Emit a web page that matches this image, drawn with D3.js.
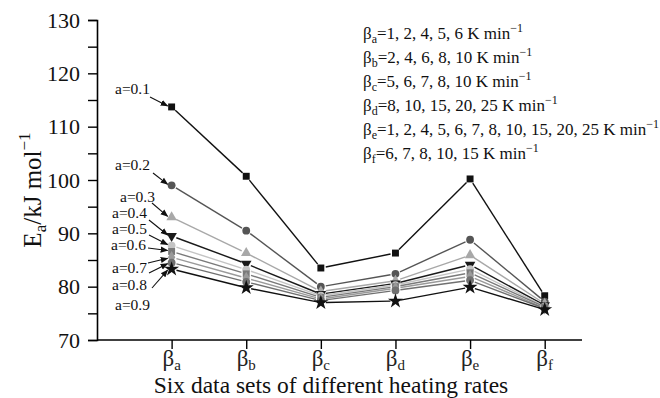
<!DOCTYPE html>
<html>
<head>
<meta charset="utf-8">
<script src="https://cdn.jsdelivr.net/npm/d3@7"></script>
<style>
  body { margin: 0; background: #fff; }
  svg { display: block; font-family: "Liberation Serif", "Times New Roman", serif; }
</style>
</head>
<body>
<svg id="chart"></svg>
<script>
// data sets on the x axis
const sets = ['a', 'b', 'c', 'd', 'e', 'f'];
const conversions = ['0.1', '0.2', '0.3', '0.4', '0.5', '0.6', '0.7', '0.8', '0.9'];
// Ea values (kJ/mol) per conversion, one per data set
const ea01 = [113.7, 100.7, 83.5, 86.3, 100.2, 78.3];
const ea02 = [99.0, 90.5, 80.0, 82.4, 88.8, 77.2];
const ea03 = [93.0, 86.3, 79.1, 81.1, 85.9, 76.8];
const ea04 = [89.5, 84.3, 78.6, 80.6, 84.1, 76.5];
const ea05 = [87.7, 83.2, 78.3, 80.3, 83.3, 76.3];
const ea06 = [86.6, 82.4, 78.0, 80.0, 82.6, 76.2];
const ea07 = [85.5, 81.6, 77.7, 79.7, 81.9, 76.0];
const ea08 = [84.5, 80.9, 77.4, 79.3, 81.2, 75.9];
const ea09 = [83.3, 79.8, 77.0, 77.3, 79.9, 75.7];
const series = [ea01, ea02, ea03, ea04, ea05, ea06, ea07, ea08, ea09];
const yTicks = [70, 80, 90, 100, 110, 120, 130];
const legendRates = ['1, 2, 4, 5, 6', '2, 4, 6, 8, 10', '5, 6, 7, 8, 10', '8, 10, 15, 20, 25',
  '1, 2, 4, 5, 6, 7, 8, 10, 15, 20, 25', '6, 7, 8, 10, 15'];

// styling per series
const colors = ['#111', '#555', '#a8a8a8', '#1a1a1a', '#c4c4c4', '#7a7a7a', '#9a9a9a', '#707070', '#111'];
const shapes = [d3.symbolSquare, d3.symbolCircle, d3.symbolTriangle, d3.symbolTriangle, d3.symbolCircle,
  d3.symbolSquare, d3.symbolDiamond, d3.symbolCircle, d3.symbolStar];
// label layout: [text x, baseline y, arrow start x, arrow start y]
const labelPos = [[115, 94, 150, 97], [115, 170, 153, 173], [120, 202, 152, 203], [112, 218, 149, 220],
  [112, 234, 149, 235], [111, 250, 148, 248], [112, 273, 148, 263], [112, 290, 149, 273], [115, 310, 152, 288]];

const width = 660, height = 398;
const svg = d3.select('#chart').attr('width', width).attr('height', height);

const x = d3.scaleLinear().domain([0, 6.5]).range([97, 582]);
const y = d3.scaleLinear().domain([70, 130]).range([340, 20]);

// axes
const yAxis = d3.axisLeft(y).tickValues(d3.range(70, 131, 5)).tickSize(9).tickPadding(8)
  .tickFormat(d => yTicks.includes(d) ? d : '');
const yg = svg.append('g').attr('transform', 'translate(97,0)').call(yAxis);
yg.select('.domain').attr('stroke-width', 1.6);
yg.selectAll('.tick line').attr('stroke-width', 1.4);
yg.selectAll('text').attr('font-size', 22).attr('font-family', 'Liberation Serif').attr('fill', '#111');

const xAxis = d3.axisBottom(x).tickValues([1, 2, 3, 4, 5, 6]).tickSize(9).tickFormat('');
const xg = svg.append('g').attr('transform', 'translate(0,340)').call(xAxis);
xg.select('.domain').attr('d', 'M97,0H582').attr('stroke-width', 1.6);
xg.selectAll('.tick line').attr('stroke-width', 1.4);

const xl = svg.append('g').selectAll('text').data(sets).enter().append('text')
  .attr('x', (d, i) => x(i + 1)).attr('y', 366).attr('text-anchor', 'middle')
  .attr('font-size', 23).attr('fill', '#222');
xl.append('tspan').text('β');
xl.append('tspan').text(d => d).attr('font-size', 15).attr('dy', 4);

svg.append('text').attr('x', 331).attr('y', 393).attr('text-anchor', 'middle')
  .attr('font-size', 23.5).attr('fill', '#111').text('Six data sets of different heating rates');

const yt = svg.append('text').attr('transform', 'translate(41,190) rotate(-90)')
  .attr('text-anchor', 'middle').attr('font-size', 25).attr('fill', '#111');
yt.append('tspan').text('E');
yt.append('tspan').text('a').attr('font-size', 17).attr('dy', 5);
yt.append('tspan').text('/kJ mol').attr('dy', -5);
yt.append('tspan').text('−1').attr('font-size', 17).attr('dy', -11);

// lines with small gaps at the markers
const gap = 5;
const lineG = svg.append('g');
series.forEach((vals, s) => {
  for (let i = 0; i < vals.length - 1; i++) {
    const x1 = x(i + 1), y1 = y(vals[i]), x2 = x(i + 2), y2 = y(vals[i + 1]);
    const len = Math.hypot(x2 - x1, y2 - y1), ux = (x2 - x1) / len, uy = (y2 - y1) / len;
    lineG.append('line')
      .attr('x1', x1 + ux * gap).attr('y1', y1 + uy * gap)
      .attr('x2', x2 - ux * gap).attr('y2', y2 - uy * gap)
      .attr('stroke', colors[s]).attr('stroke-width', 1.4);
  }
});

// markers
series.forEach((vals, s) => {
  svg.append('g').selectAll('path').data(vals).enter().append('path')
    .attr('d', d3.symbol().type(shapes[s]).size(s === 8 ? 70 : 48))
    .attr('transform', (d, i) => `translate(${x(i + 1)},${y(d)})` + (s === 3 ? ' rotate(180)' : ''))
    .attr('fill', colors[s]);
});

// conversion labels with arrows
svg.append('defs').append('marker').attr('id', 'arr').attr('viewBox', '0 0 10 10')
  .attr('refX', 9).attr('refY', 5).attr('markerWidth', 7).attr('markerHeight', 7)
  .attr('orient', 'auto').append('path').attr('d', 'M0,1L10,5L0,9z').attr('fill', '#111');

conversions.forEach((c, s) => {
  const p = labelPos[s];
  svg.append('text').attr('x', p[0]).attr('y', p[1]).attr('font-size', 15.5).attr('fill', '#111')
    .text('a=' + c);
  svg.append('line').attr('x1', p[2]).attr('y1', p[3])
    .attr('x2', x(1) - 4).attr('y2', y(series[s][0]) - (s > 5 ? -1 : 1))
    .attr('stroke', '#111').attr('stroke-width', 1.1).attr('marker-end', 'url(#arr)');
});

// heating rate legend
const lg = svg.append('g').selectAll('text').data(sets).enter().append('text')
  .attr('x', 363).attr('y', (d, i) => 39 + i * 24).attr('font-size', 17).attr('fill', '#111');
lg.append('tspan').text('β');
lg.append('tspan').text(d => d).attr('font-size', 12).attr('dy', 4);
lg.append('tspan').text((d, i) => '=' + legendRates[i] + ' K min').attr('dy', -4);
lg.append('tspan').text('−1').attr('font-size', 12).attr('dy', -7);
</script>
</body>
</html>
